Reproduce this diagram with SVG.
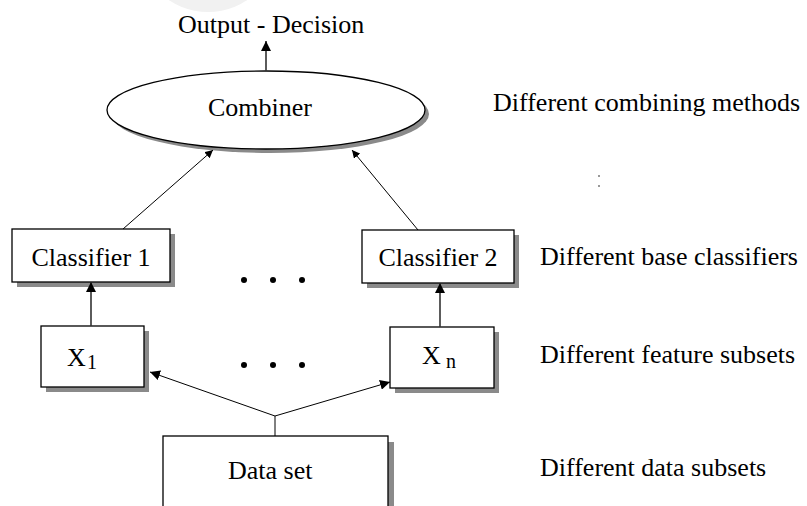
<svg xmlns="http://www.w3.org/2000/svg" width="807" height="506" viewBox="0 0 807 506">
<defs>
<style>
text{font-family:"Liberation Serif","Times New Roman","DejaVu Serif",serif;fill:#000;}
.t{font-size:26px;}
.sub{font-size:20px;}
.box{fill:#fff;stroke:#000;stroke-width:1.3;}
.shadow{fill:#8a8a8a;}
.ln{stroke:#000;stroke-width:1;fill:none;}
.lv{stroke:#333;stroke-width:1.6;fill:none;}
.dot{fill:#000;}
</style>
<marker id="ah" viewBox="0 0 10 10" refX="10" refY="5" markerWidth="10" markerHeight="10" markerUnits="userSpaceOnUse" orient="auto">
<path d="M0,0 L10,5 L0,10 Z" fill="#000"/>
</marker>
<marker id="ahs" viewBox="0 0 10 10" refX="10" refY="5" markerWidth="8" markerHeight="8" markerUnits="userSpaceOnUse" orient="auto">
<path d="M0,0 L10,5 L0,10 Z" fill="#000"/>
</marker>
</defs>
<rect width="807" height="506" fill="#fff"/>
<circle cx="208" cy="-58" r="70" fill="#f1f1f1"/>
<rect x="598" y="175" width="2" height="2" fill="#999"/>
<rect x="598" y="185" width="2" height="2" fill="#999"/>

<g id="output">
<text class="t" x="178" y="33">Output - Decision</text>
</g>

<g id="combiner">
<ellipse cx="270" cy="114" rx="159" ry="39" class="shadow"/>
<ellipse cx="266" cy="110" rx="159" ry="39" class="box"/>
<text class="t" x="260" y="116" text-anchor="middle">Combiner</text>
</g>

<g id="classifier1">
<rect x="17" y="234" width="158" height="53" class="shadow"/>
<rect x="12" y="229" width="158" height="53" class="box"/>
<text class="t" x="91" y="266" text-anchor="middle">Classifier 1</text>
</g>

<g id="classifier2">
<rect x="367" y="235" width="152" height="53" class="shadow"/>
<rect x="362" y="230" width="152" height="53" class="box"/>
<text class="t" x="438" y="266" text-anchor="middle">Classifier 2</text>
</g>

<g id="x1">
<rect x="46" y="331" width="103" height="61" class="shadow"/>
<rect x="41" y="326" width="103" height="61" class="box"/>
<text class="t" x="67" y="366">X</text>
<text class="sub" x="87" y="369">1</text>
</g>

<g id="xn">
<rect x="395" y="332" width="104" height="61" class="shadow"/>
<rect x="390" y="327" width="104" height="61" class="box"/>
<text class="t" x="422" y="364">X</text>
<text class="sub" x="446" y="368">n</text>
</g>

<g id="dataset">
<rect x="169" y="442" width="225" height="80" class="shadow"/>
<rect x="163" y="436" width="225" height="80" class="box"/>
<text class="t" x="228" y="479">Data set</text>
</g>

<g id="dots">
<circle cx="244" cy="280" r="3" class="dot"/>
<circle cx="273" cy="280" r="3" class="dot"/>
<circle cx="302" cy="280" r="3" class="dot"/>
<circle cx="244" cy="365" r="3" class="dot"/>
<circle cx="273" cy="365" r="3" class="dot"/>
<circle cx="302" cy="365" r="3" class="dot"/>
</g>

<g id="labels">
<text class="t" x="493" y="111">Different combining methods</text>
<text class="t" x="540" y="265">Different base classifiers</text>
<text class="t" x="540" y="363">Different feature subsets</text>
<text class="t" x="540" y="476">Different data subsets</text>
</g>

<g id="connectors">
<line x1="266" y1="71" x2="266" y2="41" class="lv" marker-end="url(#ah)"/>
<line x1="123" y1="229" x2="213" y2="150" class="ln" marker-end="url(#ahs)"/>
<line x1="418" y1="230" x2="352" y2="150" class="ln" marker-end="url(#ahs)"/>
<line x1="91" y1="326" x2="91" y2="282" class="lv" marker-end="url(#ah)"/>
<line x1="440" y1="327" x2="440" y2="283" class="lv" marker-end="url(#ah)"/>
<line x1="275" y1="416" x2="150" y2="372" class="ln" marker-end="url(#ah)"/>
<line x1="275" y1="416" x2="390" y2="382" class="ln" marker-end="url(#ah)"/>
<line x1="275" y1="416" x2="275" y2="436" class="ln"/>
</g>
</svg>
